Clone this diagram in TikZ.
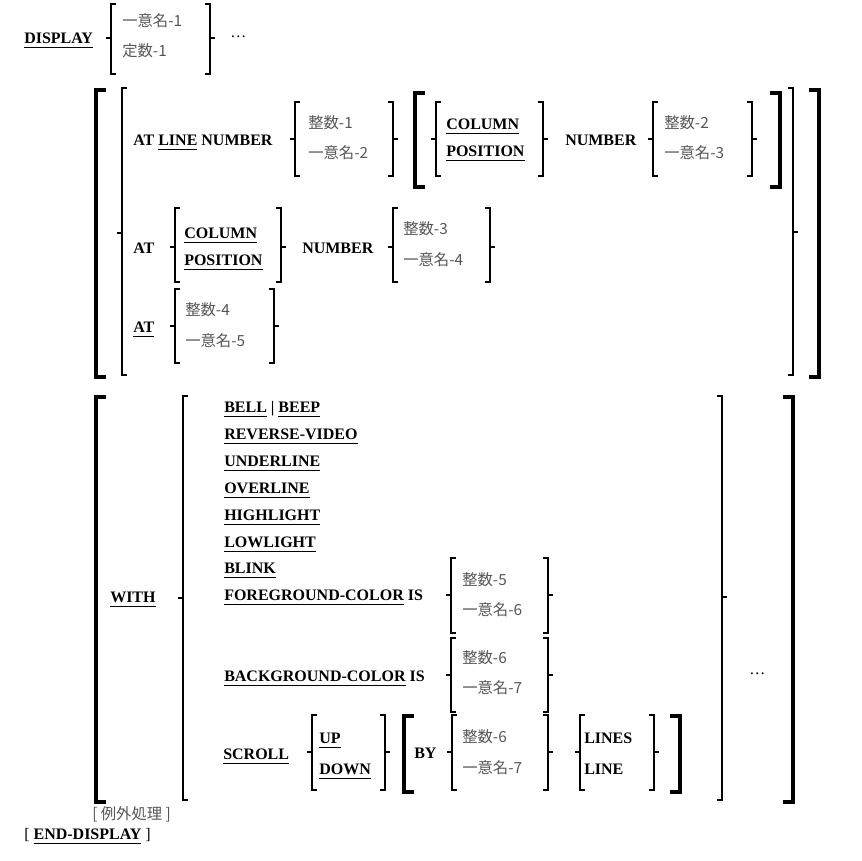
\documentclass[tikz,border=0pt]{standalone}
\usepackage{fontspec}
\setmainfont{Liberation Serif}
\newfontfamily\cjk{Noto Sans CJK JP}
\definecolor{cjkgray}{RGB}{85,85,85}
\newcommand\kwul[1]{\setbox0\hbox{#1}\rlap{\rule[-3.8pt]{\wd0}{0.75pt}}\box0\relax}
% thin brace-like bracket: x, top, bottom, tick y
\newcommand\LBr[4]{\draw[thinb] (#1+4,#2) -- (#1,#2) -- (#1,#3) -- (#1+4,#3); \draw[thinb] (#1,#4) -- (#1-4,#4);}
\newcommand\RBr[4]{\draw[thinb] (#1-4,#2) -- (#1,#2) -- (#1,#3) -- (#1-4,#3); \draw[thinb] (#1,#4) -- (#1+4,#4);}
% thick square bracket: x, top, bottom
\newcommand\LSq[3]{\draw[thickb] (#1+10,#2) -- (#1,#2) -- (#1,#3) -- (#1+10,#3);}
\newcommand\RSq[3]{\draw[thickb] (#1-10,#2) -- (#1,#2) -- (#1,#3) -- (#1-10,#3);}
\begin{document}
\begin{tikzpicture}[x=0.75pt,y=-0.75pt,
  kw/.style={inner sep=0pt,anchor=base west,font=\fontsize{12}{14}\selectfont\bfseries},
  rg/.style={inner sep=0pt,anchor=base west,font=\fontsize{12}{14}\selectfont},
  jp/.style={inner sep=0pt,anchor=west,text=cjkgray,font=\fontsize{11.5}{13}\selectfont\cjk},
  thinb/.style={line width=0.9pt,line cap=rect},
  thickb/.style={line width=2.3pt}]
\path[use as bounding box] (0,0) rectangle (861,861);

% DISPLAY line
\node[kw] (display) at (24,43) {\kwul{DISPLAY}};
\LBr{111}{4}{74}{38}
\node[jp] (id1) at (122,21) {一意名-1};
\node[jp] (lit1) at (122,51) {定数-1};
\RBr{210}{4}{74}{38}
\node[rg] (dots1) at (230,37) {…};

% group 1
\LSq{96}{90}{377}
\LBr{122}{88}{375}{233}
\RBr{793}{88}{375}{232}
\RSq{819}{90}{377}

% row 1
\node[kw] (atline) at (133,145) {AT \kwul{LINE} NUMBER};
\LBr{295}{102}{176}{139}
\node[jp] (int1) at (308,123) {整数-1};
\node[jp] (id2) at (308,153) {一意名-2};
\RBr{393}{102}{176}{139}
\LSq{415}{93}{187}
\LBr{436}{102}{176}{139}
\node[kw] (col1) at (446,129) {\kwul{COLUMN}};
\node[kw] (pos1) at (446,156) {\kwul{POSITION}};
\RBr{543}{102}{176}{139}
\node[kw] (num1) at (565,145) {NUMBER};
\LBr{653}{102}{176}{139}
\node[jp] (int2) at (664,123) {整数-2};
\node[jp] (id3) at (664,153) {一意名-3};
\RBr{752}{102}{176}{139}
\RSq{780}{93}{187}

% row 2
\node[kw] (at2) at (133,253) {AT};
\LBr{175}{208}{282}{247}
\node[kw] (col2) at (184,238) {\kwul{COLUMN}};
\node[kw] (pos2) at (184,265) {\kwul{POSITION}};
\RBr{281}{208}{282}{247}
\node[kw] (num2) at (302,253) {NUMBER};
\LBr{393}{208}{282}{247}
\node[jp] (int3) at (403,229) {整数-3};
\node[jp] (id4) at (403,260) {一意名-4};
\RBr{490}{208}{282}{247}

% row 3
\node[kw] (at3) at (133,332) {\kwul{AT}};
\LBr{175}{289}{363}{326}
\node[jp] (int4) at (185,310) {整数-4};
\node[jp] (id5) at (185,341) {一意名-5};
\RBr{274}{289}{363}{326}

% group 2
\LSq{96}{397}{802}
\RSq{793}{397}{802}
\node[kw] (with) at (110,602) {\kwul{WITH}};
\LBr{183}{396}{800}{598}
\RBr{722}{396}{800}{597}
\node[rg] (dots2) at (749,674) {…};

\node[kw] (bell) at (224,412) {\kwul{BELL} | \kwul{BEEP}};
\node[kw] (rev) at (224,439) {\kwul{REVERSE-VIDEO}};
\node[kw] (under) at (224,466) {\kwul{UNDERLINE}};
\node[kw] (over) at (224,493) {\kwul{OVERLINE}};
\node[kw] (high) at (224,520) {\kwul{HIGHLIGHT}};
\node[kw] (low) at (224,547) {\kwul{LOWLIGHT}};
\node[kw] (blink) at (224,573) {\kwul{BLINK}};
\node[kw] (fg) at (224,600) {\kwul{FOREGROUND-COLOR} IS};
\LBr{451}{558}{633}{595}
\node[jp] (int5) at (462,580) {整数-5};
\node[jp] (id6) at (462,610) {一意名-6};
\RBr{548}{558}{633}{595}

\node[kw] (bg) at (224,681) {\kwul{BACKGROUND-COLOR} IS};
\LBr{451}{638}{712}{675}
\node[jp] (int6) at (462,658) {整数-6};
\node[jp] (id7) at (462,688) {一意名-7};
\RBr{548}{638}{712}{675}

\node[kw] (scroll) at (223,759) {\kwul{SCROLL}};
\LBr{312}{715}{790}{752}
\node[kw] (up) at (319,743) {\kwul{UP}};
\node[kw] (down) at (319,774) {\kwul{DOWN}};
\RBr{385}{715}{790}{752}
\LSq{404}{716}{792}
\node[kw] (by) at (414,758) {BY};
\LBr{452}{715}{790}{752}
\node[jp] (int7) at (462,737) {整数-6};
\node[jp] (id8) at (462,768) {一意名-7};
\RBr{548}{715}{790}{752}
\LBr{580}{715}{790}{752}
\node[kw] (lines) at (584,743) {LINES};
\node[kw] (line) at (584,774) {LINE};
\RBr{654}{715}{790}{752}
\RSq{680}{716}{792}

% bottom
\node[jp] (exc) at (92,814) {[ 例外処理 ]};
\node[rg] (enddisp) at (24,839) {[ \textbf{\kwul{END-DISPLAY}} ]};
\end{tikzpicture}
\end{document}
